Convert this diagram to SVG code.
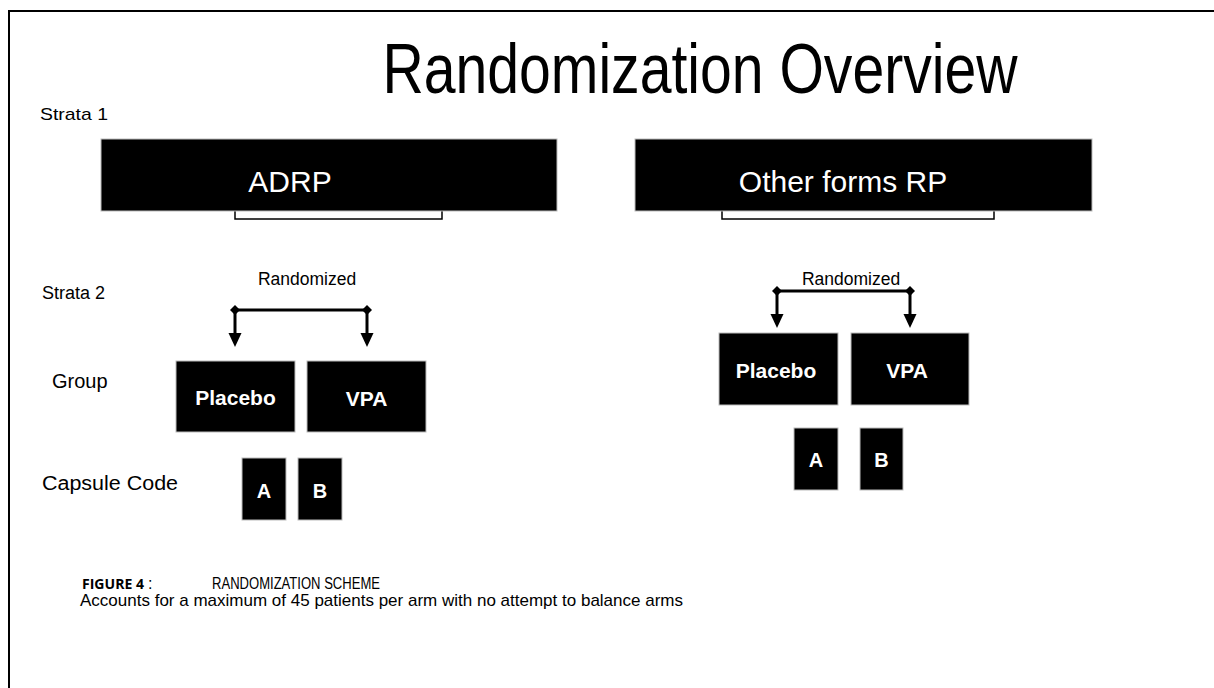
<svg xmlns="http://www.w3.org/2000/svg" width="1214" height="688" viewBox="0 0 1214 688">
<defs>
<style>
.lbl{font-family:"Liberation Sans",Arial,sans-serif;fill:#000}
.wt{font-family:"Liberation Sans",Arial,sans-serif;fill:#fff}
.bw{font-family:"Liberation Sans",Arial,sans-serif;fill:#fff;font-weight:bold}
.box{fill:#000;stroke:#bbb;stroke-width:1}
.tab{fill:#fff;stroke:#000;stroke-width:1.5}
.con{stroke:#000;stroke-width:3;fill:none}
</style>
<marker id="dia" viewBox="0 0 10 10" refX="5" refY="5" markerWidth="10" markerHeight="10" markerUnits="userSpaceOnUse"><path d="M5 0L10 5L5 10L0 5Z" fill="#000"/></marker>
</defs>
<rect x="0" y="0" width="1214" height="688" fill="#fff"/>
<rect x="9" y="11" width="1220" height="700" fill="none" stroke="#000" stroke-width="2"/>
<text class="lbl" x="700" y="93" font-size="70" text-anchor="middle" textLength="635" lengthAdjust="spacingAndGlyphs">Randomization Overview</text>
<text class="lbl" x="40" y="120" font-size="17" textLength="68" lengthAdjust="spacingAndGlyphs">Strata 1</text>
<text class="lbl" x="42" y="299" font-size="18">Strata 2</text>
<text class="lbl" x="52" y="388" font-size="20">Group</text>
<text class="lbl" x="42" y="490" font-size="20" textLength="136" lengthAdjust="spacingAndGlyphs">Capsule Code</text>

<g id="adrp">
<rect class="tab" x="235" y="205" width="207" height="14"/>
<rect class="box" x="101" y="139" width="456" height="72"/>
<text class="wt" x="290" y="192" font-size="30" text-anchor="middle">ADRP</text>
</g>
<g id="other">
<rect class="tab" x="722" y="205" width="272" height="14"/>
<rect class="box" x="635" y="139" width="457" height="72"/>
<text class="wt" x="843" y="192" font-size="30" text-anchor="middle">Other forms RP</text>
</g>

<g id="connectors">
<text class="lbl" x="307" y="285" font-size="17.5" text-anchor="middle">Randomized</text>
<path class="con" d="M235 310H367" marker-start="url(#dia)" marker-end="url(#dia)"/>
<path class="con" d="M235 310V333"/>
<path class="con" d="M367 310V333"/>
<path d="M228.5 333H241.5L235 347Z" fill="#000"/>
<path d="M360.5 333H373.5L367 347Z" fill="#000"/>
<text class="lbl" x="851" y="285" font-size="17.5" text-anchor="middle">Randomized</text>
<path class="con" d="M777 291H910" marker-start="url(#dia)" marker-end="url(#dia)"/>
<path class="con" d="M777 291V314"/>
<path class="con" d="M910 291V314"/>
<path d="M770.5 314H783.5L777 328Z" fill="#000"/>
<path d="M903.5 314H916.5L910 328Z" fill="#000"/>
</g>

<g id="placebo-left">
<rect class="box" x="176" y="361" width="119" height="71"/>
<text class="bw" x="235.5" y="405" font-size="21" text-anchor="middle">Placebo</text>
</g>
<g id="vpa-left">
<rect class="box" x="307" y="361" width="119" height="71"/>
<text class="bw" x="366.5" y="406" font-size="21" text-anchor="middle">VPA</text>
</g>
<g id="a-left">
<rect class="box" x="242" y="458" width="44" height="62"/>
<text class="bw" x="264" y="498" font-size="20" text-anchor="middle">A</text>
</g>
<g id="b-left">
<rect class="box" x="298" y="458" width="44" height="62"/>
<text class="bw" x="320" y="498" font-size="20" text-anchor="middle">B</text>
</g>

<g id="placebo-right">
<rect class="box" x="719" y="333" width="119" height="72"/>
<text class="bw" x="776" y="378" font-size="21" text-anchor="middle">Placebo</text>
</g>
<g id="vpa-right">
<rect class="box" x="851" y="333" width="118" height="72"/>
<text class="bw" x="907" y="378" font-size="21" text-anchor="middle">VPA</text>
</g>
<g id="a-right">
<rect class="box" x="794" y="428" width="44" height="62"/>
<text class="bw" x="816" y="467" font-size="20" text-anchor="middle">A</text>
</g>
<g id="b-right">
<rect class="box" x="860" y="428" width="43" height="62"/>
<text class="bw" x="881.5" y="467" font-size="20" text-anchor="middle">B</text>
</g>

<text x="82" y="589" font-family="'Open Sans','Liberation Sans',sans-serif" font-weight="bold" font-size="15" textLength="62" lengthAdjust="spacingAndGlyphs">FIGURE 4</text>
<text class="lbl" x="148" y="589" font-size="16">:</text>
<text class="lbl" x="212" y="589" font-size="16" textLength="168" lengthAdjust="spacingAndGlyphs">RANDOMIZATION SCHEME</text>
<text class="lbl" x="80" y="606" font-size="17" textLength="603" lengthAdjust="spacingAndGlyphs">Accounts for a maximum of 45 patients per arm with no attempt to balance arms</text>
</svg>
